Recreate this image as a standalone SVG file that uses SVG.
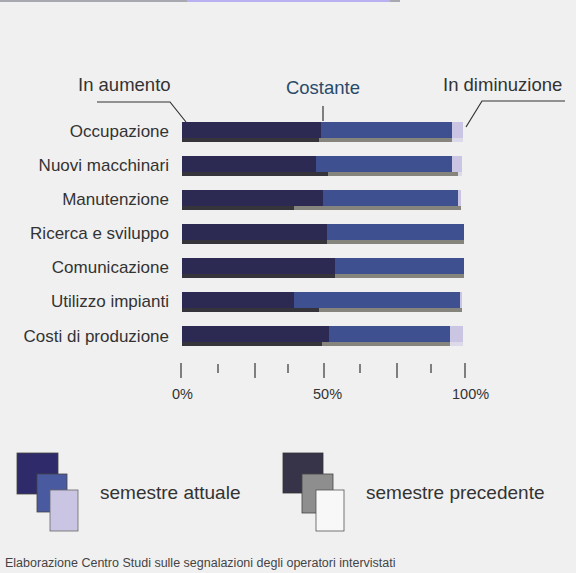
<svg xmlns="http://www.w3.org/2000/svg" width="576" height="573" viewBox="0 0 576 573">
<style>
.lbl{font-family:"Liberation Sans",Arial,sans-serif;font-size:17px;fill:#333}
.hd{font-family:"Liberation Sans",Arial,sans-serif;font-size:18.5px;fill:#333}
.ax{font-family:"Liberation Sans",Arial,sans-serif;font-size:14.5px;fill:#333}
.leg{font-family:"Liberation Sans",Arial,sans-serif;font-size:19px;fill:#333}
.d{fill:#2c2a52}.b{fill:#3e5090}.l{fill:#c9c5e2}
.pd{fill:#34343a}.pg{fill:#85857e}.pw{fill:#dcdae8}
.ln{stroke:#333;stroke-width:1.2;fill:none}
</style>
<rect width="576" height="573" fill="#f0f0f0"/>
<rect x="0" y="0" width="400" height="2" fill="#a8a8b0"/>
<rect x="187" y="0" width="203" height="2" fill="#b8b0f0"/>

<g id="headers">
<text class="hd" x="78" y="91">In aumento</text>
<text class="hd" x="323" y="94" text-anchor="middle" style="fill:#2a4a6a">Costante</text>
<text class="hd" x="443" y="91">In diminuzione</text>
</g>
<g id="connectors">
<polyline class="ln" points="97,102 170,102 186,122"/>
<line class="ln" x1="323" y1="106" x2="323" y2="121"/>
<polyline class="ln" points="565,101 482,101 466,127"/>
</g>

<g id="row1">
<text class="lbl" x="169" y="137" text-anchor="end">Occupazione</text>
<rect class="d" x="182" y="122" width="139" height="16"/><rect class="b" x="321" y="122" width="131" height="16"/><rect class="l" x="452" y="122" width="11" height="16"/>
<rect class="pd" x="182" y="138" width="137" height="4"/><rect class="pg" x="319" y="138" width="133" height="4"/><rect class="pw" x="452" y="138" width="11" height="4"/>
</g>
<g id="row2">
<text class="lbl" x="169" y="171" text-anchor="end">Nuovi macchinari</text>
<rect class="d" x="182" y="156" width="134" height="16"/><rect class="b" x="316" y="156" width="136" height="16"/><rect class="l" x="452" y="156" width="10" height="16"/>
<rect class="pd" x="182" y="172" width="146" height="4"/><rect class="pg" x="328" y="172" width="130" height="4"/><rect class="pw" x="458" y="172" width="4" height="4"/>
</g>
<g id="row3">
<text class="lbl" x="169" y="205" text-anchor="end">Manutenzione</text>
<rect class="d" x="182" y="190" width="141" height="16"/><rect class="b" x="323" y="190" width="135" height="16"/><rect class="l" x="458" y="190" width="3" height="16"/>
<rect class="pd" x="182" y="206" width="112" height="4"/><rect class="pg" x="294" y="206" width="167" height="4"/>
</g>
<g id="row4">
<text class="lbl" x="169" y="239" text-anchor="end">Ricerca e sviluppo</text>
<rect class="d" x="182" y="224" width="145" height="16"/><rect class="b" x="327" y="224" width="137" height="16"/>
<rect class="pd" x="182" y="240" width="145" height="4"/><rect class="pg" x="327" y="240" width="137" height="4"/>
</g>
<g id="row5">
<text class="lbl" x="169" y="273" text-anchor="end">Comunicazione</text>
<rect class="d" x="182" y="258" width="153" height="16"/><rect class="b" x="335" y="258" width="129" height="16"/>
<rect class="pd" x="182" y="274" width="153" height="4"/><rect class="pg" x="335" y="274" width="129" height="4"/>
</g>
<g id="row6">
<text class="lbl" x="169" y="307" text-anchor="end">Utilizzo impianti</text>
<rect class="d" x="182" y="292" width="112" height="16"/><rect class="b" x="294" y="292" width="166" height="16"/><rect class="l" x="460" y="292" width="2" height="16"/>
<rect class="pd" x="182" y="308" width="137" height="4"/><rect class="pg" x="319" y="308" width="143" height="4"/>
</g>
<g id="row7">
<text class="lbl" x="169" y="342" text-anchor="end">Costi di produzione</text>
<rect class="d" x="182" y="326" width="147" height="16"/><rect class="b" x="329" y="326" width="121" height="16"/><rect class="l" x="450" y="326" width="13" height="16"/>
<rect class="pd" x="182" y="342" width="140" height="4"/><rect class="pg" x="322" y="342" width="128" height="4"/><rect class="pw" x="450" y="342" width="13" height="4"/>
</g>

<g id="axis">
<g class="ln">
<line x1="181" y1="363" x2="181" y2="378"/>
<line x1="218" y1="364" x2="218" y2="373"/>
<line x1="255" y1="363" x2="255" y2="378"/>
<line x1="288" y1="364" x2="288" y2="373"/>
<line x1="324" y1="363" x2="324" y2="378"/>
<line x1="360" y1="364" x2="360" y2="373"/>
<line x1="397" y1="363" x2="397" y2="378"/>
<line x1="431" y1="364" x2="431" y2="373"/>
<line x1="465" y1="363" x2="465" y2="378"/>
</g>
<text class="ax" x="172" y="399">0%</text>
<text class="ax" x="313" y="399">50%</text>
<text class="ax" x="452" y="399">100%</text>
</g>

<g id="legend-current">
<rect x="17" y="453" width="41" height="41" fill="#2f2b6a" stroke="#444" stroke-width="0.8"/>
<rect x="37" y="474" width="30" height="38" fill="#4a5aa0" stroke="#444" stroke-width="0.8"/>
<rect x="50" y="490" width="28" height="41" fill="#c9c5e2" stroke="#666" stroke-width="0.8"/>
<text class="leg" x="100" y="499">semestre attuale</text>
</g>
<g id="legend-previous">
<rect x="283" y="453" width="40" height="40" fill="#37344a" stroke="#333" stroke-width="0.8"/>
<rect x="302" y="474" width="31" height="39" fill="#8e8e8e" stroke="#444" stroke-width="0.8"/>
<rect x="316" y="490" width="28" height="41" fill="#f8f8f8" stroke="#555" stroke-width="0.8"/>
<text class="leg" x="366" y="499">semestre precedente</text>
</g>
<text x="5" y="567" style="font-family:'Liberation Sans',Arial,sans-serif;font-size:12.5px;fill:#444">Elaborazione Centro Studi sulle segnalazioni degli operatori intervistati</text>
</svg>
